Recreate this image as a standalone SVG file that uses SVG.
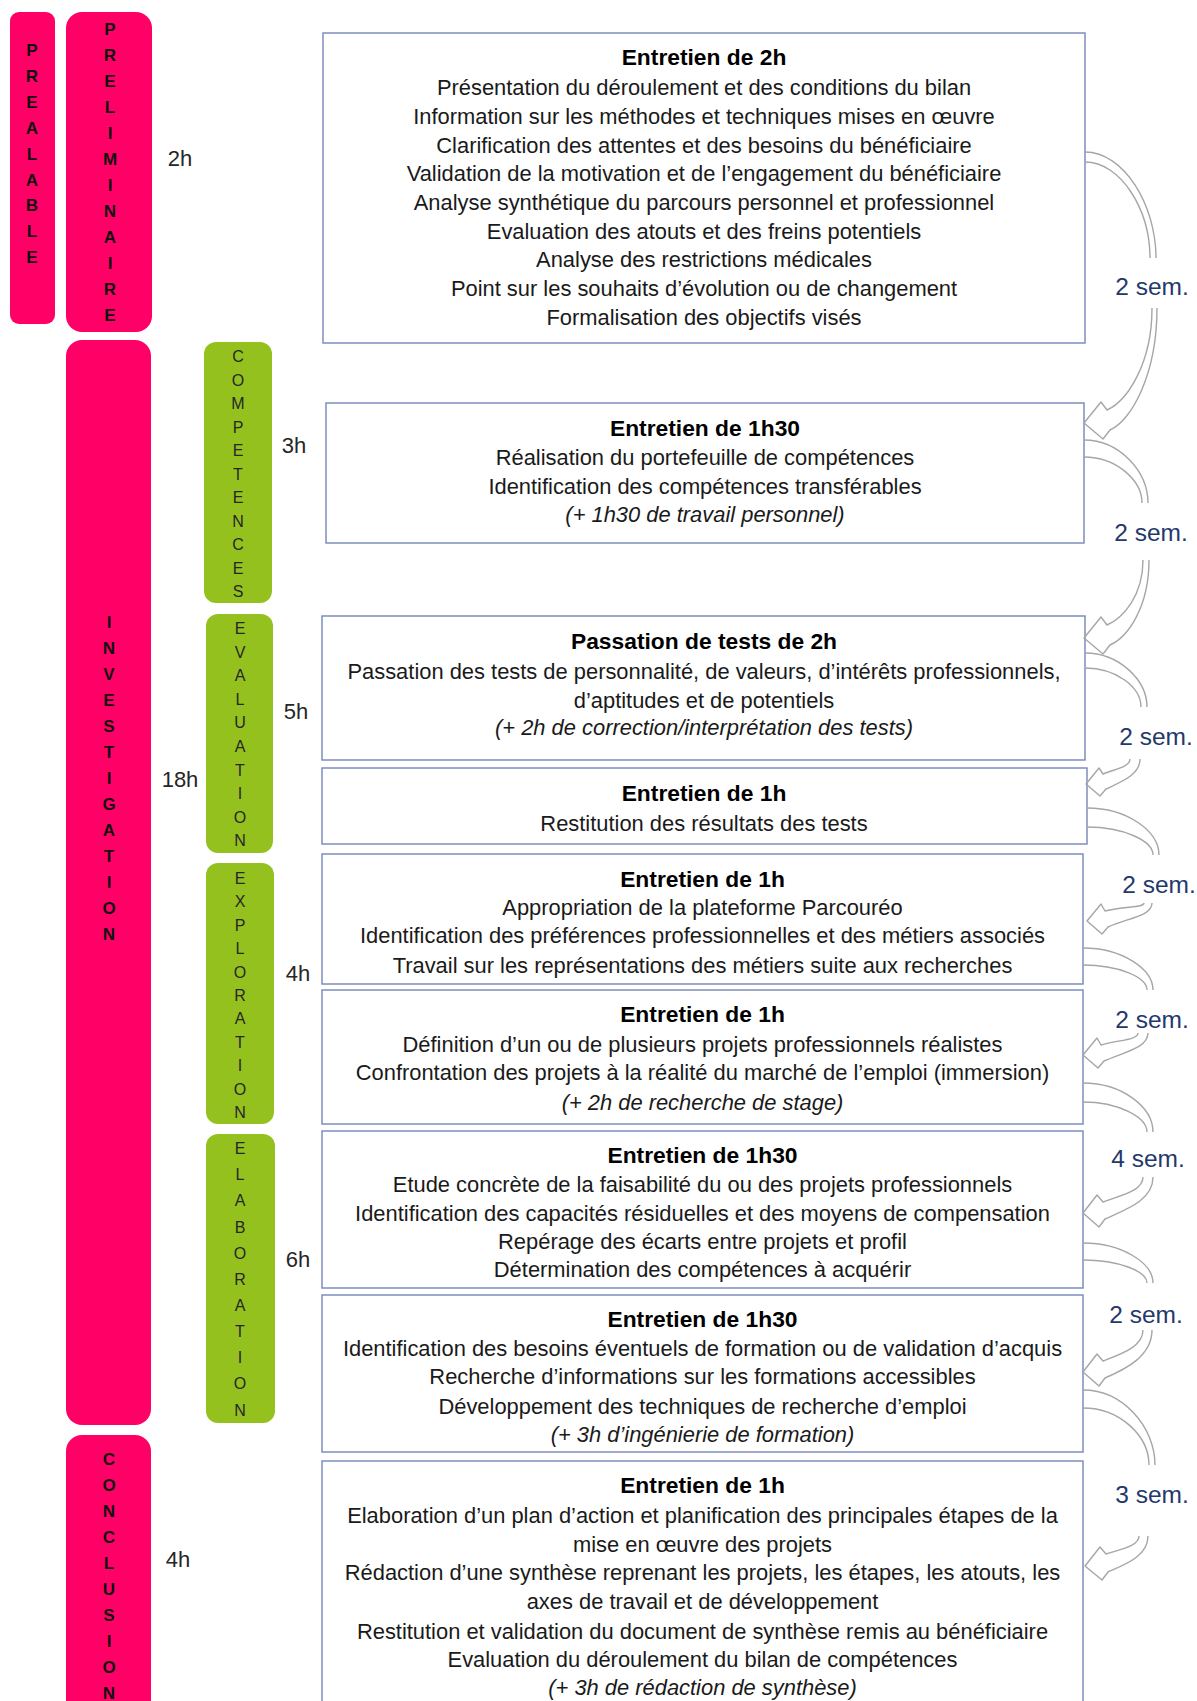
<svg xmlns="http://www.w3.org/2000/svg" width="1197" height="1701" viewBox="0 0 1197 1701">
<style>
.box{fill:#fff;stroke:#7d8dbd;stroke-width:1.5}
.t{font-family:"Liberation Sans",Arial,sans-serif;font-size:21.9px;fill:#1a1a1a;text-anchor:middle}
.b{font-weight:bold;font-size:22.8px;fill:#000}
.i{font-style:italic}
.arr{fill:none;stroke:#a6a6a6;stroke-width:1.4;stroke-linejoin:round}
.sem{font-family:"Liberation Sans",Arial,sans-serif;font-size:24.5px;fill:#23386b;text-anchor:middle}
.hr{font-family:"Liberation Sans",Arial,sans-serif;font-size:22px;fill:#262626;text-anchor:middle}
.pk{fill:#ff0066}
.gr{fill:#95c11f}
.pl{font-family:"Liberation Sans",Arial,sans-serif;font-size:17px;font-weight:bold;fill:#111;text-anchor:middle}
.gl{font-family:"Liberation Sans",Arial,sans-serif;font-size:16px;fill:#262626;text-anchor:middle}
</style>
<rect width="1197" height="1701" fill="#fff"/>

<g id="phase-prealable">
<rect class="pk" x="10" y="12" width="45" height="312" rx="9"/>
<text class="pl"><tspan x="32" y="56">P</tspan><tspan x="32" y="82">R</tspan><tspan x="32" y="108">E</tspan><tspan x="32" y="134">A</tspan><tspan x="32" y="160">L</tspan><tspan x="32" y="186">A</tspan><tspan x="32" y="211">B</tspan><tspan x="32" y="237">L</tspan><tspan x="32" y="263">E</tspan></text>
</g>
<g id="phase-preliminaire">
<rect class="pk" x="66" y="12" width="86" height="320" rx="16"/>
<text class="pl"><tspan x="110" y="35">P</tspan><tspan x="110" y="61">R</tspan><tspan x="110" y="87">E</tspan><tspan x="110" y="113">L</tspan><tspan x="110" y="139">I</tspan><tspan x="110" y="165">M</tspan><tspan x="110" y="191">I</tspan><tspan x="110" y="217">N</tspan><tspan x="110" y="243">A</tspan><tspan x="110" y="269">I</tspan><tspan x="110" y="295">R</tspan><tspan x="110" y="321">E</tspan></text>
<text class="hr" x="180" y="166">2h</text>
</g>
<g id="phase-investigation">
<rect class="pk" x="66" y="340" width="85" height="1085" rx="16"/>
<text class="pl"><tspan x="109" y="628">I</tspan><tspan x="109" y="654">N</tspan><tspan x="109" y="680">V</tspan><tspan x="109" y="706">E</tspan><tspan x="109" y="732">S</tspan><tspan x="109" y="758">T</tspan><tspan x="109" y="784">I</tspan><tspan x="109" y="810">G</tspan><tspan x="109" y="836">A</tspan><tspan x="109" y="862">T</tspan><tspan x="109" y="888">I</tspan><tspan x="109" y="914">O</tspan><tspan x="109" y="940">N</tspan></text>
<text class="hr" x="180" y="787">18h</text>
</g>
<g id="phase-conclusion">
<rect class="pk" x="66" y="1435" width="85" height="300" rx="16"/>
<text class="pl"><tspan x="109" y="1465">C</tspan><tspan x="109" y="1491">O</tspan><tspan x="109" y="1517">N</tspan><tspan x="109" y="1543">C</tspan><tspan x="109" y="1569">L</tspan><tspan x="109" y="1595">U</tspan><tspan x="109" y="1621">S</tspan><tspan x="109" y="1647">I</tspan><tspan x="109" y="1673">O</tspan><tspan x="109" y="1699">N</tspan></text>
<text class="hr" x="178" y="1567">4h</text>
</g>

<g id="sub-competences">
<rect class="gr" x="204" y="342" width="68" height="261" rx="12"/>
<text class="gl"><tspan x="238" y="362">C</tspan><tspan x="238" y="385.5">O</tspan><tspan x="238" y="409">M</tspan><tspan x="238" y="432.5">P</tspan><tspan x="238" y="456">E</tspan><tspan x="238" y="479.5">T</tspan><tspan x="238" y="503">E</tspan><tspan x="238" y="526.5">N</tspan><tspan x="238" y="550">C</tspan><tspan x="238" y="573.5">E</tspan><tspan x="238" y="597">S</tspan></text>
<text class="hr" x="294" y="453">3h</text>
</g>
<g id="sub-evaluation">
<rect class="gr" x="206" y="614" width="67" height="239" rx="12"/>
<text class="gl"><tspan x="240" y="634">E</tspan><tspan x="240" y="657.6">V</tspan><tspan x="240" y="681.2">A</tspan><tspan x="240" y="704.8">L</tspan><tspan x="240" y="728.4">U</tspan><tspan x="240" y="752">A</tspan><tspan x="240" y="775.6">T</tspan><tspan x="240" y="799.2">I</tspan><tspan x="240" y="822.8">O</tspan><tspan x="240" y="846.4">N</tspan></text>
<text class="hr" x="296" y="719">5h</text>
</g>
<g id="sub-exploration">
<rect class="gr" x="206" y="863" width="68" height="261" rx="12"/>
<text class="gl"><tspan x="240" y="884">E</tspan><tspan x="240" y="907.4">X</tspan><tspan x="240" y="930.8">P</tspan><tspan x="240" y="954.2">L</tspan><tspan x="240" y="977.6">O</tspan><tspan x="240" y="1001">R</tspan><tspan x="240" y="1024.4">A</tspan><tspan x="240" y="1047.8">T</tspan><tspan x="240" y="1071.2">I</tspan><tspan x="240" y="1094.6">O</tspan><tspan x="240" y="1118">N</tspan></text>
<text class="hr" x="298" y="981">4h</text>
</g>
<g id="sub-elaboration">
<rect class="gr" x="206" y="1134" width="69" height="289" rx="12"/>
<text class="gl"><tspan x="240" y="1154">E</tspan><tspan x="240" y="1180.2">L</tspan><tspan x="240" y="1206.3">A</tspan><tspan x="240" y="1232.5">B</tspan><tspan x="240" y="1258.6">O</tspan><tspan x="240" y="1284.8">R</tspan><tspan x="240" y="1310.9">A</tspan><tspan x="240" y="1337.1">T</tspan><tspan x="240" y="1363.2">I</tspan><tspan x="240" y="1389.4">O</tspan><tspan x="240" y="1415.5">N</tspan></text>
<text class="hr" x="298" y="1267">6h</text>
</g>

<g id="box1">
<rect class="box" x="323" y="33" width="762" height="310"/>
<text class="t b" x="704" y="65">Entretien de 2h</text>
<text class="t" x="704" y="95">Présentation du déroulement et des conditions du bilan</text>
<text class="t" x="704" y="124">Information sur les méthodes et techniques mises en œuvre</text>
<text class="t" x="704" y="152.5">Clarification des attentes et des besoins du bénéficiaire</text>
<text class="t" x="704" y="181">Validation de la motivation et de l’engagement du bénéficiaire</text>
<text class="t" x="704" y="210">Analyse synthétique du parcours personnel et professionnel</text>
<text class="t" x="704" y="238.5">Evaluation des atouts et des freins potentiels</text>
<text class="t" x="704" y="267">Analyse des restrictions médicales</text>
<text class="t" x="704" y="296">Point sur les souhaits d’évolution ou de changement</text>
<text class="t" x="704" y="324.5">Formalisation des objectifs visés</text>
</g>
<g id="box2">
<rect class="box" x="326" y="403" width="758" height="140"/>
<text class="t b" x="705" y="436">Entretien de 1h30</text>
<text class="t" x="705" y="464.5">Réalisation du portefeuille de compétences</text>
<text class="t" x="705" y="493.5">Identification des compétences transférables</text>
<text class="t i" x="705" y="522">(+ 1h30 de travail personnel)</text>
</g>
<g id="box3">
<rect class="box" x="322" y="616" width="763" height="144"/>
<text class="t b" x="704" y="649">Passation de tests de 2h</text>
<text class="t" x="704" y="679">Passation des tests de personnalité, de valeurs, d’intérêts professionnels,</text>
<text class="t" x="704" y="707.5">d’aptitudes et de potentiels</text>
<text class="t i" x="704" y="735">(+ 2h de correction/interprétation des tests)</text>
</g>
<g id="box4">
<rect class="box" x="322" y="768" width="765" height="76"/>
<text class="t b" x="704" y="801">Entretien de 1h</text>
<text class="t" x="704" y="831">Restitution des résultats des tests</text>
</g>
<g id="box5">
<rect class="box" x="322" y="854" width="761" height="130"/>
<text class="t b" x="702.5" y="886.5">Entretien de 1h</text>
<text class="t" x="702.5" y="915">Appropriation de la plateforme Parcouréo</text>
<text class="t" x="702.5" y="943">Identification des préférences professionnelles et des métiers associés</text>
<text class="t" x="702.5" y="973">Travail sur les représentations des métiers suite aux recherches</text>
</g>
<g id="box6">
<rect class="box" x="322" y="990" width="761" height="134"/>
<text class="t b" x="702.5" y="1022">Entretien de 1h</text>
<text class="t" x="702.5" y="1051.5">Définition d’un ou de plusieurs projets professionnels réalistes</text>
<text class="t" x="702.5" y="1080">Confrontation des projets à la réalité du marché de l’emploi (immersion)</text>
<text class="t i" x="702.5" y="1110">(+ 2h de recherche de stage)</text>
</g>
<g id="box7">
<rect class="box" x="322" y="1131" width="761" height="157"/>
<text class="t b" x="702.5" y="1163">Entretien de 1h30</text>
<text class="t" x="702.5" y="1191.5">Etude concrète de la faisabilité du ou des projets professionnels</text>
<text class="t" x="702.5" y="1221">Identification des capacités résiduelles et des moyens de compensation</text>
<text class="t" x="702.5" y="1249">Repérage des écarts entre projets et profil</text>
<text class="t" x="702.5" y="1277">Détermination des compétences à acquérir</text>
</g>
<g id="box8">
<rect class="box" x="322" y="1295" width="761" height="157"/>
<text class="t b" x="702.5" y="1327">Entretien de 1h30</text>
<text class="t" x="702.5" y="1355.5">Identification des besoins éventuels de formation ou de validation d’acquis</text>
<text class="t" x="702.5" y="1383.5">Recherche d’informations sur les formations accessibles</text>
<text class="t" x="702.5" y="1414">Développement des techniques de recherche d’emploi</text>
<text class="t i" x="702.5" y="1442">(+ 3h d’ingénierie de formation)</text>
</g>
<g id="box9">
<rect class="box" x="322" y="1461" width="761" height="270"/>
<text class="t b" x="702.5" y="1493">Entretien de 1h</text>
<text class="t" x="702.5" y="1522.5">Elaboration d’un plan d’action et planification des principales étapes de la</text>
<text class="t" x="702.5" y="1552">mise en œuvre des projets</text>
<text class="t" x="702.5" y="1580">Rédaction d’une synthèse reprenant les projets, les étapes, les atouts, les</text>
<text class="t" x="702.5" y="1609">axes de travail et de développement</text>
<text class="t" x="702.5" y="1638.5">Restitution et validation du document de synthèse remis au bénéficiaire</text>
<text class="t" x="702.5" y="1667">Evaluation du déroulement du bilan de compétences</text>
<text class="t i" x="702.5" y="1695">(+ 3h de rédaction de synthèse)</text>
</g>

<g id="connectors">
<g id="arrow-1-2">
<path class="arr" d="M1085,152 C1124,152 1156,205 1156,258"/>
<path class="arr" d="M1085,162 C1121,162 1150,210 1150,258"/>
<path class="arr" d="M1152,308 C1152,364 1127,401 1107,410 L1101,402 L1084,423 L1103,439 L1110,430 C1131,421 1157,375 1157,308"/>
<text class="sem" x="1152" y="295">2 sem.</text>
</g>
<g id="arrow-2-3">
<path class="arr" d="M1084,440 C1119,440 1148,471 1148,503"/>
<path class="arr" d="M1084,457 C1116,457 1142,480 1142,503"/>
<path class="arr" d="M1143,560 C1143,596 1123,618 1107,625 L1101,617 L1084,638 L1103,654 L1110,645 C1128,637 1149,607 1149,560"/>
<text class="sem" x="1151" y="541">2 sem.</text>
</g>
<g id="arrow-3-4">
<path class="arr" d="M1085,653 C1119,653 1147,680 1147,707"/>
<path class="arr" d="M1085,668 C1116,668 1141,687 1141,707"/>
<path class="arr" d="M1130,759 C1130,767 1115,769 1103,774 L1099,768 L1086,784 L1100,796 L1106,789 C1121,782 1140,775 1140,759"/>
<text class="sem" x="1156" y="745">2 sem.</text>
</g>
<g id="arrow-4-5">
<path class="arr" d="M1087,808 C1127,808 1159,831 1159,855"/>
<path class="arr" d="M1087,827 C1124,827 1153,841 1153,855"/>
<path class="arr" d="M1144,903 C1144,908 1125,906 1105,911 L1101,904 L1087,921 L1102,934 L1108,927 C1128,918 1152,916 1152,903"/>
<text class="sem" x="1159" y="893">2 sem.</text>
</g>
<g id="arrow-5-6">
<path class="arr" d="M1083,948 C1122,948 1153,969 1153,990"/>
<path class="arr" d="M1083,965 C1118,965 1147,977 1147,990"/>
<path class="arr" d="M1138,1033 C1138,1040 1118,1040 1101,1045 L1097,1038 L1083,1055 L1098,1068 L1104,1061 C1124,1052 1148,1048 1148,1033"/>
<text class="sem" x="1152" y="1028">2 sem.</text>
</g>
<g id="arrow-6-7">
<path class="arr" d="M1083,1083 C1122,1083 1153,1107 1153,1132"/>
<path class="arr" d="M1083,1102 C1118,1102 1147,1117 1147,1132"/>
<path class="arr" d="M1143,1177 C1143,1191 1121,1195 1103,1202 L1097,1195 L1083,1213 L1099,1227 L1105,1219 C1127,1209 1153,1200 1153,1177"/>
<text class="sem" x="1148" y="1167">4 sem.</text>
</g>
<g id="arrow-7-8">
<path class="arr" d="M1083,1243 C1122,1243 1153,1263 1153,1283"/>
<path class="arr" d="M1083,1260 C1118,1260 1147,1271 1147,1283"/>
<path class="arr" d="M1143,1330 C1143,1347 1121,1354 1103,1361 L1097,1354 L1083,1372 L1099,1386 L1105,1378 C1126,1369 1152,1356 1152,1330"/>
<text class="sem" x="1146" y="1323">2 sem.</text>
</g>
<g id="arrow-8-9">
<path class="arr" d="M1083,1390 C1123,1390 1155,1427 1155,1465"/>
<path class="arr" d="M1083,1408 C1120,1408 1149,1436 1149,1465"/>
<path class="arr" d="M1139,1536 C1139,1546 1121,1549 1106,1554 L1100,1547 L1085,1566 L1102,1580 L1108,1572 C1126,1564 1148,1556 1148,1536"/>
<text class="sem" x="1152" y="1503">3 sem.</text>
</g>
</g>
</svg>
